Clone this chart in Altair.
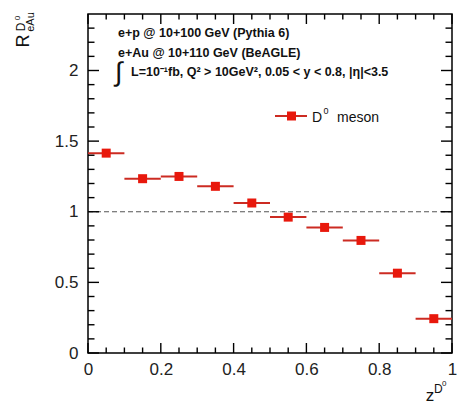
import altair as alt
import pandas as pd

# ---- data ----
z_center = [0.05, 0.15, 0.25, 0.35, 0.45, 0.55, 0.65, 0.75, 0.85, 0.95]
z_low = [0.0, 0.1, 0.2, 0.3, 0.4, 0.5, 0.6, 0.7, 0.8, 0.9]
z_high = [0.1, 0.2, 0.3, 0.4, 0.5, 0.6, 0.7, 0.8, 0.9, 1.0]
r_eau = [1.415, 1.234, 1.25, 1.18, 1.062, 0.962, 0.889, 0.797, 0.565, 0.243]

x_major = [0.0, 0.2, 0.4, 0.6, 0.8, 1.0]
x_minor = [0.05, 0.1, 0.15, 0.25, 0.3, 0.35, 0.45, 0.5, 0.55, 0.65, 0.7, 0.75,
           0.85, 0.9, 0.95]
y_major = [0.0, 0.5, 1.0, 1.5, 2.0]
y_minor = [0.1, 0.2, 0.3, 0.4, 0.6, 0.7, 0.8, 0.9, 1.1, 1.2, 1.3, 1.4, 1.6, 1.7,
           1.8, 1.9, 2.1, 2.2, 2.3]
reference_line = [1.0]

info_lines = ["e+p @ 10+100 GeV (Pythia 6)", "e+Au @ 10+110 GeV (BeAGLE)",
              "L=10\u207b\u00b9fb, Q\u00b2 > 10GeV\u00b2, 0.05 < y < 0.8, |\u03b7|<3.5"]
legend_label = "meson"

W, H = 364, 339
FONT = "Liberation Sans"
MARK_RED = "#e8180c"
BAR_RED = "#cc2b22"

xs = alt.Scale(domain=[0, 1], nice=False, zero=False)
ys = alt.Scale(domain=[0, 2.4], nice=False, zero=False)

x_axis = alt.Axis(values=x_major, format="~g", ticks=False, tickSize=0, domain=False,
                  grid=False, labelFont=FONT, labelFontSize=17, labelColor="#222",
                  labelPadding=8, labelFlush=False, labelOverlap=False, title=None)
y_axis = alt.Axis(values=y_major, format="~g", ticks=False, tickSize=0, domain=False,
                  grid=False, labelFont=FONT, labelFontSize=17, labelColor="#222",
                  labelPadding=10, labelFlush=False, labelOverlap=False, title=None)


def X(field):
    return alt.X(field, scale=xs, axis=x_axis)


def Y(field):
    return alt.Y(field, scale=ys, axis=y_axis)


df = pd.DataFrame({"z": z_center, "lo": z_low, "hi": z_high, "r": r_eau})
base = alt.Chart(df)

bars = base.mark_rule(color=BAR_RED, strokeWidth=2).encode(
    x=X("lo:Q"), x2="hi:Q", y=Y("r:Q"))
points = base.mark_point(shape="square", filled=True, size=81, color=MARK_RED,
                         opacity=1).encode(x=X("z:Q"), y=Y("r:Q"))

dash = alt.Chart(pd.DataFrame({"ref": reference_line})).mark_rule(
    color="#555", strokeDash=[5, 3], strokeWidth=1.2).encode(
    y=Y("ref:Q"), x=alt.value(0), x2=alt.value(W))


def xticks(vals, length, name):
    d = alt.Chart(pd.DataFrame({name: vals}))
    bottom = d.mark_rule(color="black", strokeWidth=1.4).encode(
        x=X(f"{name}:Q"), y=alt.value(H), y2=alt.value(H - length))
    top = d.mark_rule(color="black", strokeWidth=1.4).encode(
        x=X(f"{name}:Q"), y=alt.value(0), y2=alt.value(length))
    return [bottom, top]


def yticks(vals, length, name):
    d = alt.Chart(pd.DataFrame({name: vals}))
    left = d.mark_rule(color="black", strokeWidth=1.4).encode(
        y=Y(f"{name}:Q"), x=alt.value(0), x2=alt.value(length))
    right = d.mark_rule(color="black", strokeWidth=1.4).encode(
        y=Y(f"{name}:Q"), x=alt.value(W), x2=alt.value(W - length))
    return [left, right]


tick_layers = (xticks(x_major, 10, "xmaj") + xticks(x_minor, 5.5, "xmin")
               + yticks(y_major, 11, "ymaj") + yticks(y_minor, 6.5, "yminor"))


def txt(s, x, y, size, weight="normal", align="left", baseline="middle", angle=0,
        color="#111"):
    return alt.Chart(pd.DataFrame({"t": [s]})).mark_text(
        font=FONT, fontSize=size, fontWeight=weight, align=align, baseline=baseline,
        angle=angle, color=color, clip=False).encode(
        text="t:N", x=alt.value(x), y=alt.value(y))


info = [
    txt(info_lines[0], 30, 19, 12.5, "bold"),
    txt(info_lines[1], 30, 39, 12.5, "bold"),
    txt("\u222b", 27, 59, 27, "normal"),
    txt(info_lines[2], 43, 58, 12.5, "bold"),
]

leg_df = pd.DataFrame({"a": [0]})
legend = [
    alt.Chart(leg_df).mark_rule(color=BAR_RED, strokeWidth=2).encode(
        x=alt.value(187), x2=alt.value(219), y=alt.value(102)),
    alt.Chart(leg_df).mark_point(shape="square", filled=True, size=81, color=MARK_RED,
                                 opacity=1).encode(x=alt.value(203.5), y=alt.value(102)),
    txt("D", 224, 108, 14, baseline="alphabetic"),
    txt("0", 235.5, 100, 9, baseline="alphabetic"),
    txt(legend_label, 249, 108, 14, baseline="alphabetic"),
]

# axis titles (outside the plot area)
titles = [
    txt("R", 29 - 88, 41 - 14, 18, angle=270, align="center", baseline="alphabetic"),
    txt("D", 25 - 88, 27 - 14, 12, angle=270, align="center", baseline="alphabetic"),
    txt("0", 20 - 88, 18 - 14, 8, angle=270, align="center", baseline="alphabetic"),
    txt("eAu", 34 - 88, 22 - 14, 11, angle=270, align="center", baseline="alphabetic"),
    txt("z", 430 - 88, 401 - 14, 17, align="center", baseline="alphabetic"),
    txt("D", 434 - 88, 393 - 14, 12, baseline="alphabetic"),
    txt("0", 442 - 88, 386 - 14, 8, baseline="alphabetic"),
]

chart = alt.layer(bars, points, dash, *tick_layers, *info, *legend, *titles).properties(
    width=W, height=H,
    autosize=alt.AutoSizeParams(type="none"),
    padding={"left": 88, "top": 14, "right": 5, "bottom": 51},
    background="white",
).configure_view(stroke="black", strokeWidth=1.5)

chart.save("out.html", embed_options={"renderer": "svg", "actions": False})
